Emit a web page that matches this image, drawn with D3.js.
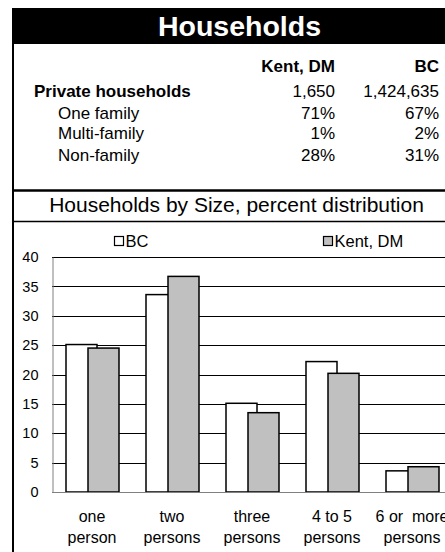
<!DOCTYPE html>
<html><head><meta charset="utf-8">
<script src="https://cdn.jsdelivr.net/npm/d3@7"></script>
<style>html,body{margin:0;padding:0;background:#fff;overflow:hidden}</style>
</head><body>
<script>
const categoriesLine1 = ["one", "two", "three", "4 to 5", "6 or  more"];
const categoriesLine2 = ["person", "persons", "persons", "persons", "persons"];
const categories = ["one person", "two persons", "three persons", "4 to 5 persons", "6 or more persons"];
const seriesNames = ["BC", "Kent, DM"];
const bcValues = [25.1, 33.6, 15.1, 22.2, 3.6];
const kentValues = [24.5, 36.7, 13.5, 20.2, 4.3];
const yTicks = [0, 5, 10, 15, 20, 25, 30, 35, 40];
const tableHeader = ["Kent, DM", "BC"];
const tableRows = [
  ["Private households", "1,650", "1,424,635"],
  ["One family", "71%", "67%"],
  ["Multi-family", "1%", "2%"],
  ["Non-family", "28%", "31%"]
];

const W = 445, H = 552;
const font = "'Liberation Sans', Arial, sans-serif";
const svg = d3.select("body").append("svg").attr("width", W).attr("height", H)
  .style("font-family", font);

// banner
svg.append("rect").attr("x", 12).attr("y", 8).attr("width", 460).attr("height", 36).attr("fill", "#000");
svg.append("text").attr("x", 239.5).attr("y", 36).attr("text-anchor", "middle")
  .attr("fill", "#fff").attr("font-weight", "bold").attr("font-size", 28.5).text("Households");
// left border
svg.append("line").attr("x1", 13).attr("x2", 13).attr("y1", 44).attr("y2", H).attr("stroke", "#000").attr("stroke-width", 2);

// table
svg.selectAll("text.th").data(tableHeader).enter().append("text")
  .attr("x", (d, i) => i === 0 ? 335 : 439).attr("y", 71.5).attr("text-anchor", "end")
  .attr("font-weight", "bold").attr("font-size", 17).text(d => d);
const rowY = [97, 119, 139, 161];
tableRows.forEach((r, i) => {
  svg.append("text").attr("x", i === 0 ? 34 : 58).attr("y", rowY[i])
    .attr("font-weight", i === 0 ? "bold" : "normal").attr("font-size", 17).text(r[0]);
  svg.append("text").attr("x", 335).attr("y", rowY[i]).attr("text-anchor", "end").attr("font-size", 17).text(r[1]);
  svg.append("text").attr("x", 439).attr("y", rowY[i]).attr("text-anchor", "end").attr("font-size", 17).text(r[2]);
});

// section lines
svg.append("line").attr("x1", 12).attr("x2", W).attr("y1", 190.5).attr("y2", 190.5).attr("stroke", "#000").attr("stroke-width", 2.5);
svg.append("line").attr("x1", 12).attr("x2", W).attr("y1", 221.5).attr("y2", 221.5).attr("stroke", "#000").attr("stroke-width", 1.5);
svg.append("text").attr("x", 236.5).attr("y", 212).attr("text-anchor", "middle").attr("font-size", 21)
  .text("Households by Size, percent distribution");

// chart
const x = d3.scaleBand().domain(categories).range([52, 452]).padding(0);
const sub = d3.scalePoint().domain(seriesNames).range([14, 36]);
const barW = 31;
const y = d3.scaleLinear().domain([0, 40]).range([492, 257]);

// gridlines
svg.append("g").selectAll("line").data(yTicks.filter(t => t > 0)).enter().append("line")
  .attr("x1", 52).attr("x2", 452).attr("y1", d => Math.round(y(d)) + 0.5).attr("y2", d => Math.round(y(d)) + 0.5)
  .attr("stroke", "#000").attr("stroke-width", 1);

// y axis
const yAxis = svg.append("g").attr("transform", "translate(52.5,0)")
  .call(d3.axisLeft(y).tickValues(yTicks).tickSize(0).tickPadding(14));
yAxis.select(".domain").attr("stroke", "#808080");
yAxis.selectAll("text").attr("font-size", 14.5).attr("font-family", font).attr("fill", "#000");

const seriesData = [bcValues, kentValues];
const fills = ["#ffffff", "#c0c0c0"];
seriesNames.forEach((s, si) => {
  svg.append("g").selectAll("rect").data(seriesData[si]).enter().append("rect")
    .attr("x", (d, i) => x(categories[i]) + sub(s))
    .attr("y", d => y(d))
    .attr("width", barW)
    .attr("height", d => y(0) - y(d))
    .attr("fill", fills[si]).attr("stroke", "#000").attr("stroke-width", 1.5);
});

// x baseline
svg.append("line").attr("x1", 52).attr("x2", 452).attr("y1", 492.5).attr("y2", 492.5).attr("stroke", "#808080").attr("stroke-width", 1);

// x labels
categories.forEach((c, i) => {
  const cx = x(c) + x.bandwidth() / 2;
  svg.append("text").attr("x", cx).attr("y", 522).attr("text-anchor", "middle").attr("font-size", 16)
    .attr("xml:space", "preserve").style("white-space", "pre").text(categoriesLine1[i]);
  svg.append("text").attr("x", cx).attr("y", 543).attr("text-anchor", "middle").attr("font-size", 16).text(categoriesLine2[i]);
});

// legend
const legX = [114, 323];
seriesNames.forEach((s, i) => {
  svg.append("rect").attr("x", legX[i] + 0.5).attr("y", 236.5).attr("width", 9).attr("height", 9)
    .attr("fill", fills[i]).attr("stroke", "#000").attr("stroke-width", 1.2);
  svg.append("text").attr("x", legX[i] + 11.5).attr("y", 246.5).attr("font-size", 16.5).text(s);
});
</script>
</body></html>
